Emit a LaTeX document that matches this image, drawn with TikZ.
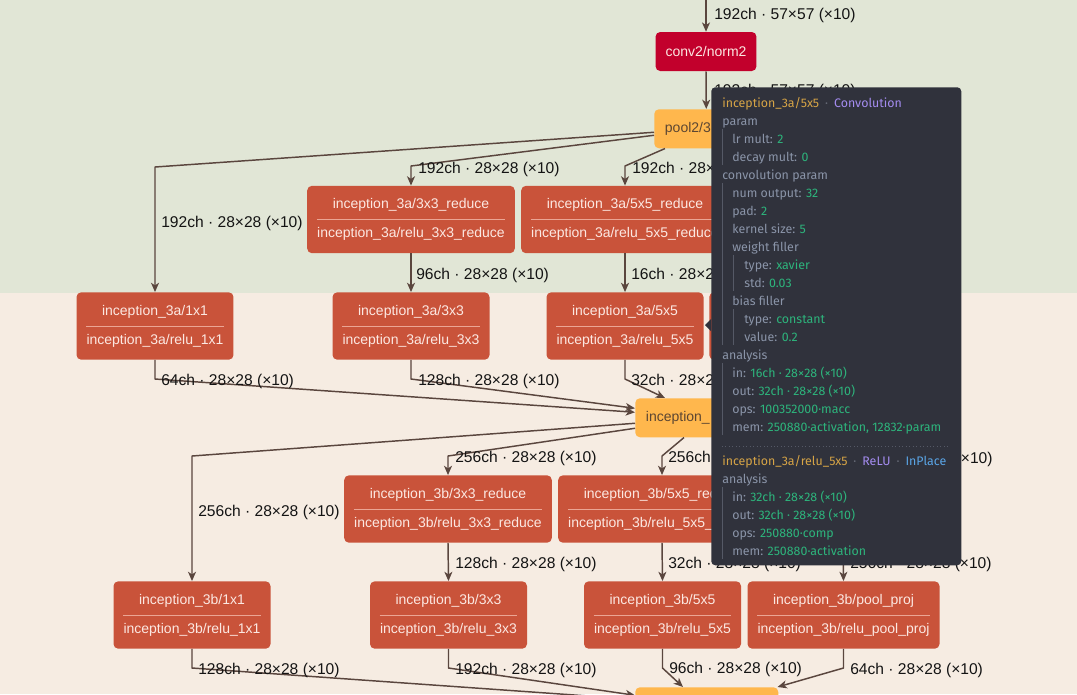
\documentclass[tikz,border=0pt]{standalone}
\usepackage{fontspec}
\setmainfont{Liberation Sans}
\newfontfamily\tipfont{Fira Sans}
\usetikzlibrary{arrows.meta}

\definecolor{topband}{HTML}{E1E6D6}
\definecolor{lowband}{HTML}{F6ECE2}
\definecolor{convred}{HTML}{C9533A}
\definecolor{normred}{HTML}{C2002C}
\definecolor{poolorange}{HTML}{FFB74D}
\definecolor{pooltext}{HTML}{5C4632}
\definecolor{lighttext}{HTML}{FCE8E2}
\definecolor{divline}{HTML}{EBA594}
\definecolor{edgebrown}{HTML}{5A463E}
\definecolor{tipbg}{HTML}{30323C}
\definecolor{tipkey}{HTML}{8A94A8}
\definecolor{tipval}{HTML}{2DB47C}
\definecolor{tipname}{HTML}{D6A446}
\definecolor{tiptype}{HTML}{A48CF0}
\definecolor{tipflag}{HTML}{5AA5E6}
\definecolor{tipdot}{HTML}{6A6E7A}
\definecolor{tipguide}{HTML}{555966}

\newcommand\tval[1]{\textcolor{tipval}{#1}}
\newcommand\tdot{\hspace{4.5pt}\textcolor{tipdot}{·}\hspace{4.5pt}}

\tikzset{
  layer/.style={rounded corners=3.5pt, fill=convred, text=lighttext, align=center,
    font=\fontsize{10.5}{21.75}\selectfont, inner xsep=7.5pt, inner ysep=0pt, minimum height=50.5pt},
  norm/.style={rounded corners=3.5pt, fill=normred, text=lighttext,
    font=\fontsize{10.5}{12}\selectfont, inner xsep=7.5pt, minimum height=29.25pt},
  pool/.style={rounded corners=3.5pt, fill=poolorange, text=pooltext, align=left,
    font=\fontsize{10.5}{12}\selectfont, inner xsep=8pt, minimum height=29.25pt},
  edge/.style={draw=edgebrown, line width=1.1pt, line join=round,
    -{Stealth[length=7pt,width=6pt,inset=2pt]}},
  lbl/.style={anchor=west, inner sep=0pt, text=black!92,
    font=\fontsize{11.7}{13}\selectfont, text height=10.3pt, text depth=1.5pt},
  divider/.style={draw=divline, line width=0.75pt},
  tipbox/.style={fill=tipbg, rounded corners=3pt, inner sep=0pt},
  tline/.style={anchor=west, inner sep=0pt, text=tipkey,
    font=\tipfont\fontsize{9.3}{11}\selectfont, text height=8.4pt, text depth=0.6pt},
  guide/.style={draw=tipguide, line width=0.75pt},
}

\begin{document}
\begin{tikzpicture}[x=0.75pt,y=-0.75pt]
\clip (0,0) rectangle (1077,694);
% background bands
\fill[topband] (0,0) rectangle (1077,293);
\fill[lowband] (0,293) rectangle (1077,694);

% layers
\coordinate (top) at (706,-2);
\node[norm] (norm2) at (706,51.5) {conv2/norm2};
\node[pool, anchor=north west, text width=62pt] (pool2) at (654,109) {pool2/3};
\node[layer] (a3r) at (411,219.5) {inception\_3a/3x3\_reduce\\inception\_3a/relu\_3x3\_reduce};
\node[layer] (a5r) at (625,219.5) {inception\_3a/5x5\_reduce\\inception\_3a/relu\_5x5\_reduce};
\node[layer] (a1) at (155,326) {inception\_3a/1x1\\inception\_3a/relu\_1x1};
\node[layer] (a3) at (411,326) {inception\_3a/3x3\\inception\_3a/relu\_3x3};
\node[layer] (a5) at (625,326) {inception\_3a/5x5\\inception\_3a/relu\_5x5};
\node[layer, anchor=west, minimum width=130pt] (aproj) at (709,326) {};
\node[pool, anchor=north west, text width=91.25pt] (c3a) at (635,398) {inception\_};
\node[layer] (b3r) at (448,509) {inception\_3b/3x3\_reduce\\inception\_3b/relu\_3x3\_reduce};
\node[layer] (b5r) at (662,509) {inception\_3b/5x5\_reduce\\inception\_3b/relu\_5x5\_reduce};
\coordinate (p3b) at (843,543);
\node[layer] (b1) at (192,615) {inception\_3b/1x1\\inception\_3b/relu\_1x1};
\node[layer] (b3) at (448.5,615) {inception\_3b/3x3\\inception\_3b/relu\_3x3};
\node[layer] (b5) at (662.5,615) {inception\_3b/5x5\\inception\_3b/relu\_5x5};
\node[layer] (bproj) at (843.5,615) {inception\_3b/pool\_proj\\inception\_3b/relu\_pool\_proj};
\node[pool, anchor=north west, text width=91.25pt] (c3b) at (635,687) {};
\foreach \n in {a3r,a5r,a1,a3,a5,b3r,b5r,b1,b3,b5,bproj}
  \draw[divider] ([xshift=7.5pt]\n.west) -- ([xshift=-7.5pt]\n.east);

% edges
\draw[edge] (top) -- (norm2.north);
\draw[edge] (norm2.south) -- (pool2.north);
\draw[edge] ([shift={(0,3.5)}]pool2.west) -- (a1.north |- 0,167) -- (a1.north);
\draw[edge] ([shift={(0,6.5)}]pool2.west) -- (a3r.north |- 0,166) -- (a3r.north);
\draw[edge] ([shift={(11,0)}]pool2.south west) -- (a5r.north |- 0,166) -- (a5r.north);
\draw[edge] (a3r.south) -- (a3.north);
\draw[edge] (a5r.south) -- (a5.north);
\draw[edge] (a1.south) -- (a1.south |- 0,379) -- ([shift={(0,-5.5)}]c3a.west);
\draw[edge] (a3.south) -- (a3.south |- 0,379) -- ([shift={(0,-9.5)}]c3a.west);
\draw[edge] (a5.south) -- (a5.south |- 0,379) -- ([shift={(30,0)}]c3a.north west);
\draw[edge] ([shift={(0,5.5)}]c3a.west) -- (b1.north |- 0,456) -- (b1.north);
\draw[edge] ([shift={(0,10.5)}]c3a.west) -- (b3r.north |- 0,456) -- (b3r.north);
\draw[edge] ([shift={(49,0)}]c3a.south west) -- (b5r.north |- 0,456) -- (b5r.north);
\draw[edge] (b3r.south) -- (b3.north);
\draw[edge] (b5r.south) -- (b5.north);
\draw[edge] (p3b) -- (bproj.north);
\draw[edge] (b1.south) -- (b1.south |- 0,668) -- ([shift={(0,-7.5)}]c3b.west);
\draw[edge] (b3.south) -- (b3.south |- 0,668) -- ([shift={(0,-11.5)}]c3b.west);
\draw[edge] (b5.south) -- (b5.south |- 0,668) -- ([shift={(48,0)}]c3b.north west);
\draw[edge] (bproj.south) -- (bproj.south |- 0,668) -- ([shift={(-1,0)}]c3b.north east);

% edge labels
\node[lbl] (l1) at (714,14) {192ch · 57×57 (×10)};
\node[lbl] (l2) at (714,90) {192ch · 57×57 (×10)};
\node[lbl] (l3) at (161,222) {192ch · 28×28 (×10)};
\node[lbl] (l4) at (418,168) {192ch · 28×28 (×10)};
\node[lbl] (l5) at (632,168) {192ch · 28×28 (×10)};
\node[lbl] (l6) at (416,274) {96ch · 28×28 (×10)};
\node[lbl] (l7) at (631,274) {16ch · 28×28 (×10)};
\node[lbl] (l8) at (161,380) {64ch · 28×28 (×10)};
\node[lbl] (l9) at (418,380) {128ch · 28×28 (×10)};
\node[lbl] (l10) at (631,380) {32ch · 28×28 (×10)};
\node[lbl] (l11) at (198,511) {256ch · 28×28 (×10)};
\node[lbl] (l12) at (455,457) {256ch · 28×28 (×10)};
\node[lbl] (l13) at (668,457) {256ch · 28×28 (×10)};
\node[lbl] (l14) at (851,458) {256ch · 28×28 (×10)};
\node[lbl] (l15) at (455,563) {128ch · 28×28 (×10)};
\node[lbl] (l16) at (668,563) {32ch · 28×28 (×10)};
\node[lbl] (l17) at (850,563) {256ch · 28×28 (×10)};
\node[lbl] (l18) at (198,669) {128ch · 28×28 (×10)};
\node[lbl] (l19) at (455,669) {192ch · 28×28 (×10)};
\node[lbl] (l20) at (669,668) {96ch · 28×28 (×10)};
\node[lbl] (l21) at (850,669) {64ch · 28×28 (×10)};

% tooltip
\node[tipbox, anchor=north west, minimum width=187.5pt, minimum height=358.5pt] (tip) at (711,87) {};
\fill[tipbg] (tip.west |- 0,319) -- (705,325) -- (tip.west |- 0,331) -- cycle;
\draw[guide] (722.5,129) -- (722.5,165);
\draw[guide] (722.5,183) -- (722.5,345);
\draw[guide] (733,255) -- (733,291);
\draw[guide] (733,309) -- (733,345);
\draw[guide] (722.5,363) -- (722.5,435);
\draw[guide] (722.5,487) -- (722.5,559);
\draw[tipguide, dotted, line width=0.6pt] (722,446) -- (950,446);
\node[tline] (t1) at (722,102) {\textcolor{tipname}{inception\_3a/5x5}\tdot\textcolor{tiptype}{Convolution}};
\node[tline] (t2) at (722,120) {param};
\node[tline] (t3) at (732,138) {lr mult: \tval{2}};
\node[tline] (t4) at (732,156) {decay mult: \tval{0}};
\node[tline] (t5) at (722,174) {convolution param};
\node[tline] (t6) at (732,192) {num output: \tval{32}};
\node[tline] (t7) at (732,210) {pad: \tval{2}};
\node[tline] (t8) at (732,228) {kernel size: \tval{5}};
\node[tline] (t9) at (732,246) {weight filler};
\node[tline] (t10) at (744,264) {type: \tval{xavier}};
\node[tline] (t11) at (744,282) {std: \tval{0.03}};
\node[tline] (t12) at (732,300) {bias filler};
\node[tline] (t13) at (744,318) {type: \tval{constant}};
\node[tline] (t14) at (744,336) {value: \tval{0.2}};
\node[tline] (t15) at (722,354) {analysis};
\node[tline] (t16) at (732,372) {in: \tval{16ch · 28×28 (×10)}};
\node[tline] (t17) at (732,390) {out: \tval{32ch · 28×28 (×10)}};
\node[tline] (t18) at (732,408) {ops: \tval{100352000·macc}};
\node[tline] (t19) at (732,426) {mem: \tval{250880·activation, 12832·param}};
\node[tline] (t20) at (722,460) {\textcolor{tipname}{inception\_3a/relu\_5x5}\tdot\textcolor{tiptype}{ReLU}\tdot\textcolor{tipflag}{InPlace}};
\node[tline] (t21) at (722,478) {analysis};
\node[tline] (t22) at (732,496) {in: \tval{32ch · 28×28 (×10)}};
\node[tline] (t23) at (732,514) {out: \tval{32ch · 28×28 (×10)}};
\node[tline] (t24) at (732,532) {ops: \tval{250880·comp}};
\node[tline] (t25) at (732,550) {mem: \tval{250880·activation}};
\end{tikzpicture}
\end{document}
